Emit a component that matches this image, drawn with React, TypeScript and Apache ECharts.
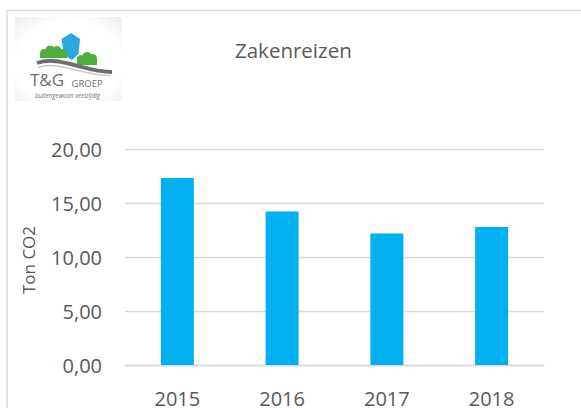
import React, { useEffect, useRef } from "react";
import * as echarts from "echarts";

const categories = ["2015", "2016", "2017", "2018"];
const values = [17.35, 14.25, 12.2, 12.8];
const chartTitle = "Zakenreizen";
const yAxisTitle = "Ton CO2";
const yTicks = { min: 0, max: 20, interval: 5 };

const FONT = "'Open Sans', 'Noto Sans', sans-serif";
const TEXT = "#595959";
const GRID = "#d9d9d9";
const GREEN = "#4fae3a";

export default function App() {
  const ref = useRef<HTMLDivElement>(null);
  useEffect(() => {
    if (!ref.current) return;
    const chart = echarts.init(ref.current, null, { renderer: "svg" });
    chart.setOption({
      animation: false,
      backgroundColor: "#ffffff",
      title: {
        text: chartTitle,
        left: 230,
        top: 34,
        textStyle: { fontFamily: FONT, fontSize: 20.5, fontWeight: "normal", color: TEXT },
      },
      grid: { left: 125, right: 37, top: 149.5, bottom: 38.7, containLabel: false },
      xAxis: {
        type: "category",
        data: categories,
        axisLine: { show: true, lineStyle: { color: GRID, width: 1.3 } },
        axisTick: { show: false },
        axisLabel: { color: TEXT, fontFamily: FONT, fontSize: 20, margin: 23 },
      },
      yAxis: {
        type: "value",
        min: yTicks.min,
        max: yTicks.max,
        interval: yTicks.interval,
        axisLine: { show: false },
        axisTick: { show: false },
        splitLine: { lineStyle: { color: GRID, width: 1.3 } },
        axisLabel: {
          color: TEXT,
          fontFamily: FONT,
          fontSize: 20,
          margin: 23,
          formatter: (v: number) => v.toFixed(2).replace(".", ","),
        },
      },
      series: [
        {
          type: "bar",
          data: values,
          barWidth: "31.5%",
          itemStyle: { color: "#00B0F0" },
        },
      ],
      graphic: [
        {
          type: "rect",
          shape: { x: 7, y: 10.5, width: 800, height: 600 },
          style: { fill: "none", stroke: GRID, lineWidth: 1.5 },
          silent: true,
        },
        {
          type: "text",
          x: 28,
          y: 260,
          rotation: Math.PI / 2,
          style: {
            text: yAxisTitle,
            fontFamily: FONT,
            fontSize: 17,
            fill: TEXT,
            textAlign: "center",
            textVerticalAlign: "middle",
          },
        },
        {
          type: "group",
          children: [
            {
              type: "rect",
              shape: { x: 15, y: 17, width: 107, height: 84 },
              style: {
                fill: {
                  type: "radial",
                  x: 0.5,
                  y: 0.55,
                  r: 0.7,
                  colorStops: [
                    { offset: 0, color: "#ffffff" },
                    { offset: 0.72, color: "#ffffff" },
                    { offset: 1, color: "#efefef" },
                  ],
                },
              },
            },
            {
              type: "polygon",
              shape: { points: [[71, 33], [80, 39], [78.5, 54], [72, 60], [64, 55], [61.5, 39]] },
              style: { fill: "#2aa7e1" },
            },
            { type: "circle", shape: { cx: 44, cy: 53, r: 4 }, style: { fill: GREEN } },
            { type: "circle", shape: { cx: 50, cy: 50, r: 4.5 }, style: { fill: GREEN } },
            { type: "circle", shape: { cx: 57, cy: 50.5, r: 4.5 }, style: { fill: GREEN } },
            { type: "circle", shape: { cx: 63, cy: 53, r: 4 }, style: { fill: GREEN } },
            { type: "rect", shape: { x: 40, y: 53, width: 27, height: 5 }, style: { fill: GREEN } },
            { type: "circle", shape: { cx: 81, cy: 59, r: 4 }, style: { fill: GREEN } },
            { type: "circle", shape: { cx: 87, cy: 56.5, r: 4.5 }, style: { fill: GREEN } },
            { type: "circle", shape: { cx: 92.5, cy: 58.5, r: 4.5 }, style: { fill: GREEN } },
            { type: "rect", shape: { x: 77, y: 59, width: 20, height: 6 }, style: { fill: GREEN } },
            {
              type: "bezierCurve",
              shape: { x1: 37, y1: 63, cpx1: 58, cpy1: 55, cpx2: 85, cpy2: 72, x2: 112, y2: 72 },
              style: { stroke: "#6d6e70", lineWidth: 4, fill: "none" },
            },
            {
              type: "bezierCurve",
              shape: { x1: 38, y1: 67.5, cpx1: 58, cpy1: 60, cpx2: 85, cpy2: 76.5, x2: 111, y2: 75.5 },
              style: { stroke: "#c8c8c8", lineWidth: 1.5, fill: "none" },
            },
            {
              type: "text",
              x: 30,
              y: 88,
              style: { text: "T&G", fontFamily: FONT, fontSize: 17, fill: "#6d6e70", textVerticalAlign: "bottom" },
            },
            {
              type: "text",
              x: 71.5,
              y: 88,
              style: { text: "GROEP", fontFamily: FONT, fontSize: 9.5, fill: "#6d6e70", textVerticalAlign: "bottom" },
            },
            {
              type: "text",
              x: 67.5,
              y: 95.5,
              style: {
                text: "buitengewoon veelzijdig",
                fontFamily: FONT,
                fontSize: 6.2,
                fontStyle: "italic",
                fill: "#6d6e70",
                textAlign: "center",
                textVerticalAlign: "middle",
              },
            },
          ],
        },
      ],
    });
    return () => chart.dispose();
  }, []);
  return (
    <div
      ref={ref}
      style={{ position: "fixed", left: 0, top: 0, width: 581, height: 408 }}
    />
  );
}
